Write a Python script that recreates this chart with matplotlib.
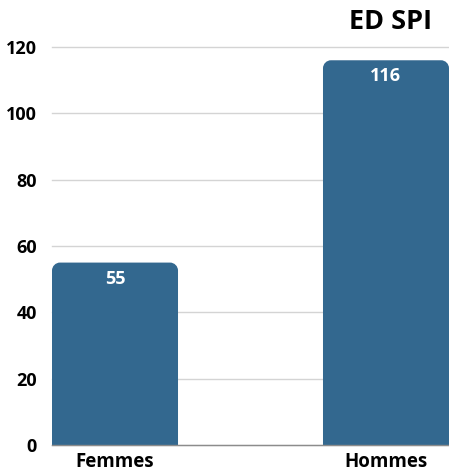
import numpy as np
import matplotlib.pyplot as plt
from matplotlib.path import Path
from matplotlib.patches import PathPatch

categories = ["Femmes", "Hommes"]
values = [55, 116]
yticks = [0, 20, 40, 60, 80, 100, 120]
title = "ED SPI"

BAR_COLOR = "#33688f"
FONT = ["Open Sans", "DejaVu Sans"]
plt.rcParams["font.family"] = FONT


def rounded_top_bar(ax, x, w, h, r_px, color):
    # radius given in pixels, converted to data units on each axis
    fig = ax.figure
    fig.canvas.draw()
    sx = ax.transData.transform((1, 0))[0] - ax.transData.transform((0, 0))[0]
    sy = ax.transData.transform((0, 1))[1] - ax.transData.transform((0, 0))[1]
    rx, ry = r_px / sx, r_px / sy
    x0, x1 = x - w / 2, x + w / 2
    k = 0.5523
    verts = [
        (x0, 0), (x0, h - ry),
        (x0, h - ry + k * ry), (x0 + rx - k * rx, h), (x0 + rx, h),
        (x1 - rx, h),
        (x1 - rx + k * rx, h), (x1, h - ry + k * ry), (x1, h - ry),
        (x1, 0), (x0, 0),
    ]
    codes = [Path.MOVETO, Path.LINETO,
             Path.CURVE4, Path.CURVE4, Path.CURVE4,
             Path.LINETO,
             Path.CURVE4, Path.CURVE4, Path.CURVE4,
             Path.LINETO, Path.CLOSEPOLY]
    ax.add_patch(PathPatch(Path(verts, codes), facecolor=color, edgecolor="none", zorder=3))


fig = plt.figure(figsize=(4.49, 4.74), dpi=100)
ax = fig.add_axes([52 / 449, 29 / 474, 397 / 449, 398 / 474])

x = np.arange(len(categories))
width = 0.465
ax.set_xlim(-width / 2, 1 + width / 2)
ax.set_ylim(0, 120)

for xi, v in zip(x, values):
    rounded_top_bar(ax, xi, width, v, 8, BAR_COLOR)
    ax.annotate(str(v), (xi, v), xytext=(0, -5), textcoords="offset points",
                ha="center", va="top", color="white", fontsize=13,
                fontweight="bold", zorder=4)

ax.set_yticks(yticks)
ax.set_yticklabels([str(t) for t in yticks], fontsize=13, fontweight="bold")
ax.set_xticks(x)
ax.set_xticklabels(categories, fontsize=13.5, fontweight="bold")
ax.tick_params(axis="y", length=0, pad=11)
ax.tick_params(axis="x", length=0, pad=5)

ax.grid(axis="y", color="#d4d4d4", linewidth=1, zorder=0)
for line in ax.get_ygridlines():
    line.set_clip_on(False)
for s in ["left", "right", "top"]:
    ax.spines[s].set_visible(False)
ax.spines["bottom"].set_color("#8c8c8c")
ax.spines["bottom"].set_linewidth(1)
ax.spines["bottom"].set_zorder(5)

fig.text(432 / 449, 1 - 22 / 474, title, ha="right", va="center",
         fontsize=19.5, fontweight="bold")

fig.savefig("out.png", dpi=100)
